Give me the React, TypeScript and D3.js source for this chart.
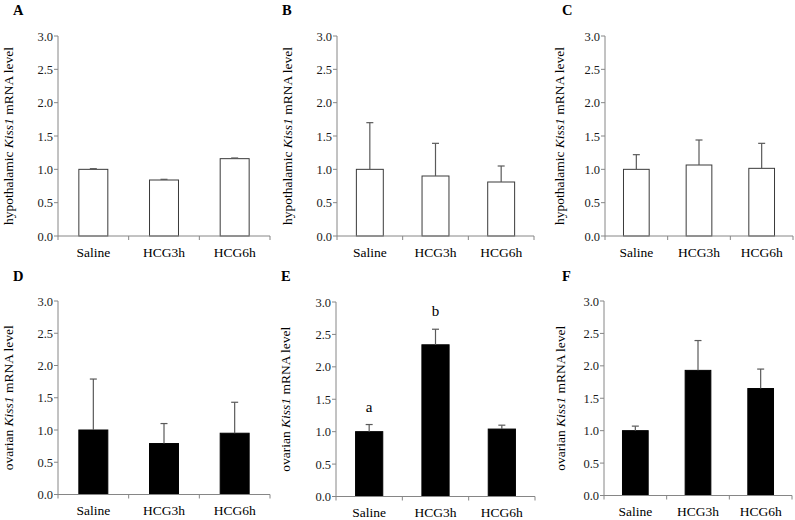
import React from 'react';
import * as d3 from 'd3';

// categories and tick labels
const categories = ['Saline', 'HCG3h', 'HCG6h'];
const yTickValues = [0, 0.5, 1.0, 1.5, 2.0, 2.5, 3.0];

// hypothalamic Kiss1 (white bars)
const meanA = [1.0, 0.84, 1.16];
const errA = [0.01, 0.01, 0.01];
const meanB = [1.0, 0.9, 0.81];
const errB = [0.7, 0.49, 0.24];
const meanC = [1.0, 1.065, 1.015];
const errC = [0.22, 0.375, 0.375];

// ovarian Kiss1 (black bars)
const meanD = [1.0, 0.79, 0.95];
const errD = [0.79, 0.31, 0.48];
const meanE = [1.0, 2.34, 1.04];
const errE = [0.11, 0.24, 0.06];
const meanF = [1.0, 1.93, 1.65];
const errF = [0.07, 0.46, 0.3];

const lettersE = ['a', 'b', ''];

const FONT = '"Liberation Serif", "Times New Roman", serif';
const AXIS = '#868686';

interface Panel {
  id: string;
  tissue: string;
  mean: number[];
  err: number[];
  letters?: string[];
  dark: boolean;
  // layout
  x0: number;
  x1: number;
  yTop: number;
  yBot: number;
  titleX: number;
  labelX: number;
  labelY: number;
}

const panels: Panel[] = [
  { id: 'A', tissue: 'hypothalamic', mean: meanA, err: errA, dark: false, x0: 58, x1: 270, yTop: 36, yBot: 236, titleX: 9, labelX: 13, labelY: 15 },
  { id: 'B', tissue: 'hypothalamic', mean: meanB, err: errB, dark: false, x0: 337, x1: 534, yTop: 36, yBot: 236, titleX: 288, labelX: 282, labelY: 15 },
  { id: 'C', tissue: 'hypothalamic', mean: meanC, err: errC, dark: false, x0: 605, x1: 793, yTop: 36, yBot: 236, titleX: 560, labelX: 562, labelY: 15 },
  { id: 'D', tissue: 'ovarian', mean: meanD, err: errD, dark: true, x0: 58, x1: 270, yTop: 301, yBot: 494.5, titleX: 9, labelX: 13, labelY: 281 },
  { id: 'E', tissue: 'ovarian', mean: meanE, err: errE, letters: lettersE, dark: true, x0: 336, x1: 535, yTop: 302, yBot: 496.5, titleX: 286, labelX: 281, labelY: 281 },
  { id: 'F', tissue: 'ovarian', mean: meanF, err: errF, dark: true, x0: 604, x1: 792, yTop: 301, yBot: 495.5, titleX: 561, labelX: 562, labelY: 281 },
];

const BarPanel: React.FC<{ p: Panel }> = ({ p }) => {
  const x = d3.scaleBand<string>()
    .domain(categories)
    .range([p.x0, p.x1])
    .paddingInner(0.59)
    .paddingOuter(0.295);
  const y = d3.scaleLinear().domain([0, 3]).range([p.yBot, p.yTop]);
  const step = x.step();
  const bw = x.bandwidth();
  const bounds = d3.range(categories.length + 1).map(i => p.x0 + i * step);
  const midY = (p.yTop + p.yBot) / 2;

  return (
    <g>
      <text x={p.labelX} y={p.labelY} fontFamily={FONT} fontWeight="bold" fontSize={14.5} fill="#000">
        {p.id}
      </text>

      {/* y axis */}
      <line x1={p.x0} x2={p.x0} y1={p.yTop} y2={p.yBot} stroke={AXIS} />
      {yTickValues.map(t => (
        <g key={t}>
          <line x1={p.x0 - 4} x2={p.x0} y1={y(t)} y2={y(t)} stroke={AXIS} />
          <text x={p.x0 - 5} y={y(t) + 4.5} textAnchor="end" fontFamily={FONT} fontSize={12.5} fill="#1a1a1a">
            {t.toFixed(1)}
          </text>
        </g>
      ))}
      <text
        transform={`translate(${p.titleX + 4}, ${midY}) rotate(-90)`}
        textAnchor="middle"
        fontFamily={FONT}
        fontSize={13.5}
        fill="#000"
      >
        {p.tissue + ' '}
        <tspan fontStyle="italic">Kiss1</tspan>
        {' mRNA level'}
      </text>

      {/* bars */}
      {categories.map((c, i) => {
        const bx = x(c) || 0;
        const top = y(p.mean[i]);
        const et = y(p.mean[i] + p.err[i]);
        const cx = bx + bw / 2;
        return (
          <g key={c}>
            <rect
              x={bx}
              y={top}
              width={bw}
              height={p.yBot - top}
              fill={p.dark ? '#000' : '#fff'}
              stroke={p.dark ? '#000' : '#3a3a3a'}
              strokeWidth={1}
            />
            <line x1={cx} x2={cx} y1={top} y2={et} stroke="#5a5a5a" strokeWidth={1.2} />
            <line x1={cx - 3.5} x2={cx + 3.5} y1={et} y2={et} stroke="#5a5a5a" strokeWidth={1.2} />
            {p.letters && p.letters[i] && (
              <text x={cx} y={et - 13} textAnchor="middle" fontFamily={FONT} fontSize={15} fill="#000">
                {p.letters[i]}
              </text>
            )}
          </g>
        );
      })}

      {/* x axis */}
      <line x1={p.x0} x2={p.x1} y1={p.yBot} y2={p.yBot} stroke={AXIS} />
      {bounds.map((bx, i) => (
        <line key={i} x1={bx} x2={bx} y1={p.yBot} y2={p.yBot + 4} stroke={AXIS} />
      ))}
      {categories.map(c => (
        <text
          key={c}
          x={(x(c) || 0) + bw / 2}
          y={p.yBot + 20.5}
          textAnchor="middle"
          fontFamily={FONT}
          fontSize={13.5}
          fill="#000"
        >
          {c}
        </text>
      ))}
    </g>
  );
};

export default function App() {
  return (
    <svg
      width={795}
      height={520}
      style={{ position: 'absolute', left: 0, top: 0, background: '#fff' }}
    >
      <rect width={795} height={520} fill="#fff" />
      {panels.map(p => (
        <BarPanel key={p.id} p={p} />
      ))}
    </svg>
  );
}
